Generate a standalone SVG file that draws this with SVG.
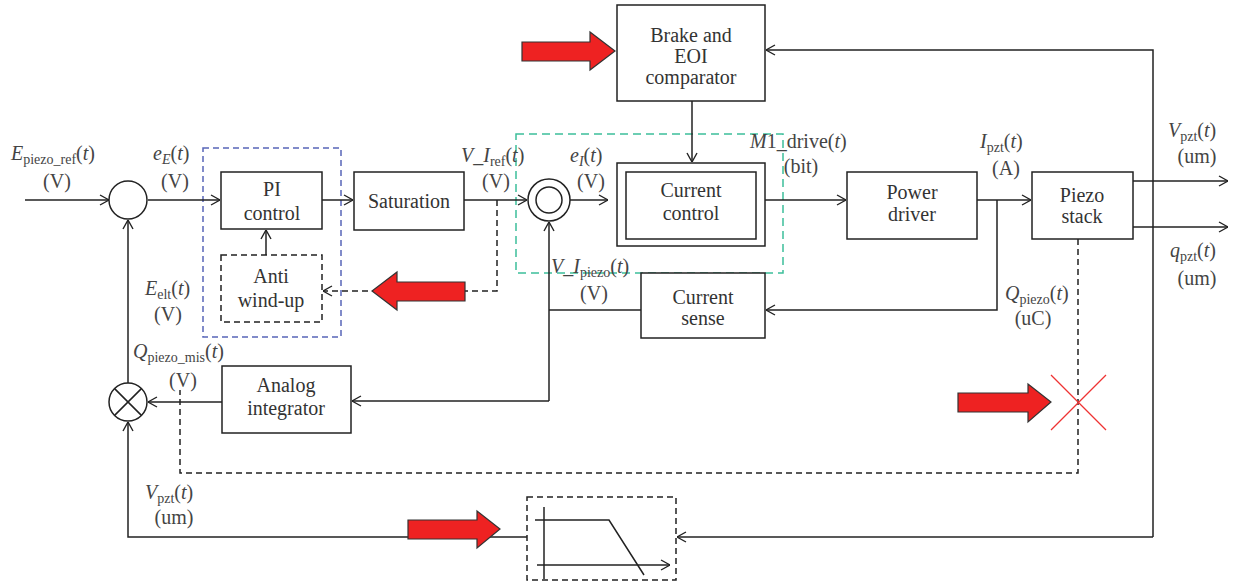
<svg xmlns="http://www.w3.org/2000/svg" width="1235" height="583" viewBox="0 0 1235 583">
<style>
.box{fill:#fff;stroke:#222;stroke-width:1.5}
.dbox{fill:none;stroke:#222;stroke-width:1.5;stroke-dasharray:6 4}
.t{font-family:"Liberation Serif",serif;font-size:20px;fill:#333;text-anchor:middle}
.lbl{font-family:"Liberation Serif",serif;font-size:20px;fill:#444}
.c{text-anchor:middle}
.it{font-style:italic}
.sub{font-size:14px}
.wire{fill:none;stroke:#222;stroke-width:1.5}
.dash{stroke-dasharray:6 4}
.red{fill:#ee2222;stroke:#333;stroke-width:1.2}
</style>
<defs>
<marker id="ar" viewBox="0 0 10 12" refX="10" refY="6" markerWidth="10" markerHeight="12" markerUnits="userSpaceOnUse" orient="auto">
<path d="M1,1 L10,6 L1,11" fill="none" stroke="#222" stroke-width="1.4"/>
</marker>
</defs>
<rect width="1235" height="583" fill="#fff"/>

<rect x="203" y="148" width="138" height="189" fill="none" stroke="#5866b8" stroke-width="1.5" stroke-dasharray="6 4"/>
<rect x="516" y="134" width="267" height="139" fill="none" stroke="#3dbf9a" stroke-width="1.5" stroke-dasharray="8 5"/>

<g id="connectors">
<path class="wire" d="M25,200 H109" marker-end="url(#ar)"/>
<path class="wire" d="M148,200 H220" marker-end="url(#ar)"/>
<path class="wire" d="M322,200 H353" marker-end="url(#ar)"/>
<path class="wire" d="M464,200 H527" marker-end="url(#ar)"/>
<path class="wire" d="M570,200 H608" marker-end="url(#ar)"/>
<path class="wire" d="M692,101 V162" marker-end="url(#ar)"/>
<path class="wire" d="M765,200 H846" marker-end="url(#ar)"/>
<path class="wire" d="M977,200 H1031" marker-end="url(#ar)"/>
<path class="wire" d="M997,200 V310 H766" marker-end="url(#ar)"/>
<path class="wire" d="M641,310 H549"/>
<path class="wire" d="M549,401 V222" marker-end="url(#ar)"/>
<path class="wire" d="M549,401 H352" marker-end="url(#ar)"/>
<path class="wire" d="M222,402 H148" marker-end="url(#ar)"/>
<path class="wire" d="M128,383 V220" marker-end="url(#ar)"/>
<path class="wire" d="M1153,537 V50 H766" marker-end="url(#ar)"/>
<path class="wire" d="M1153,537 H677" marker-end="url(#ar)"/>
<path class="wire" d="M527,537 H128 V422" marker-end="url(#ar)"/>
<path class="wire" d="M1133,181 H1228" marker-end="url(#ar)"/>
<path class="wire" d="M1133,227 H1228" marker-end="url(#ar)"/>
<path class="wire" d="M266,255 V230" marker-end="url(#ar)"/>
<path class="wire dash" d="M497,200 V291 H323" marker-end="url(#ar)"/>
<path class="wire dash" d="M1078,239 V473 H180 V390"/>
</g>

<g id="sum1"><circle cx="128" cy="200" r="19" class="box"/></g>
<g id="sum2"><circle cx="549" cy="200" r="21" class="box"/><circle cx="549" cy="200" r="13" class="box"/></g>
<g id="mult"><circle cx="128" cy="402" r="19" class="box"/><path class="wire" d="M114.6,388.6 L141.4,415.4 M141.4,388.6 L114.6,415.4"/></g>

<g font-family="Liberation Serif, serif">
<g id="brake"><rect class="box" x="617" y="5" width="148" height="96"/>
<text class="t" x="691" y="42">Brake and</text><text class="t" x="691" y="63">EOI</text><text class="t" x="691" y="84">comparator</text></g>
<g id="pi"><rect class="box" x="221" y="172" width="101" height="57"/>
<text class="t" x="272" y="196" font-size="21">PI</text><text class="t" x="272" y="220" font-size="21">control</text></g>
<g id="antiwindup"><rect class="dbox" x="221" y="255" width="101" height="67"/>
<text class="t" x="271" y="283" font-size="21">Anti</text><text class="t" x="271" y="307" font-size="21">wind-up</text></g>
<g id="saturation"><rect class="box" x="354" y="172" width="110" height="58"/>
<text class="t" x="409" y="208" font-size="21">Saturation</text></g>
<g id="currentcontrol"><rect class="box" x="617" y="163" width="148" height="83"/><rect class="box" x="626" y="172" width="130" height="67"/>
<text class="t" x="691" y="197" font-size="21">Current</text><text class="t" x="691" y="220" font-size="21">control</text></g>
<g id="powerdriver"><rect class="box" x="847" y="172" width="130" height="67"/>
<text class="t" x="912" y="199">Power</text><text class="t" x="912" y="221">driver</text></g>
<g id="piezostack"><rect class="box" x="1032" y="172" width="101" height="67"/>
<text class="t" x="1082" y="202">Piezo</text><text class="t" x="1082" y="223">stack</text></g>
<g id="currentsense"><rect class="box" x="641" y="273" width="124" height="65"/>
<text class="t" x="703" y="304" font-size="19">Current</text><text class="t" x="703" y="325" font-size="19">sense</text></g>
<g id="integrator"><rect class="box" x="222" y="366" width="129" height="67"/>
<text class="t" x="286" y="392" font-size="21">Analog</text><text class="t" x="286" y="415" font-size="21">integrator</text></g>
</g>
<g id="filter"><rect class="dbox" x="527" y="497" width="149" height="83"/>
<path class="wire" d="M544,507 V579"/>
<path class="wire" d="M537,565 H670" marker-end="url(#ar)"/>
<path class="wire" d="M535,520 H609 L644,575"/></g>

<g id="redarrows">
<polygon class="red" points="522,42 590,42 590,32 615,51 590,70 590,61 522,61"/>
<polygon class="red" points="465,282 397,282 397,272 372,291 397,310 397,301 465,301"/>
<polygon class="red" points="408,520 477,520 477,511 500,529 477,548 477,539 408,539"/>
<polygon class="red" points="958,393 1028,393 1028,384 1051,402 1028,422 1028,412 958,412"/>
<path d="M1051,375 L1106,430 M1106,375 L1051,430" stroke="#ee3333" stroke-width="1.3" fill="none"/>
</g>

<g id="labels" font-family="Liberation Serif, serif">
<text class="lbl" x="11" y="160"><tspan class="it">E</tspan><tspan class="sub" dy="4">piezo_ref</tspan><tspan dy="-4">(</tspan><tspan class="it">t</tspan>)</text>
<text class="lbl c" x="57" y="188">(V)</text>
<text class="lbl" x="153" y="160"><tspan class="it">e</tspan><tspan class="sub it" dy="4">E</tspan><tspan dy="-4">(</tspan><tspan class="it">t</tspan>)</text>
<text class="lbl c" x="175" y="188">(V)</text>
<text class="lbl" x="461" y="162"><tspan class="it">V</tspan>_<tspan class="it">I</tspan><tspan class="sub" dy="4">ref</tspan><tspan dy="-4">(</tspan><tspan class="it">t</tspan>)</text>
<text class="lbl c" x="496" y="188">(V)</text>
<text class="lbl" x="570" y="162"><tspan class="it">e</tspan><tspan class="sub it" dy="4">I</tspan><tspan dy="-4">(</tspan><tspan class="it">t</tspan>)</text>
<text class="lbl c" x="591" y="188">(V)</text>
<text class="lbl" x="750" y="148"><tspan class="it">M</tspan>1_drive(<tspan class="it">t</tspan>)</text>
<text class="lbl c" x="801" y="173">(bit)</text>
<text class="lbl" x="980" y="148"><tspan class="it">I</tspan><tspan class="sub" dy="4">pzt</tspan><tspan dy="-4">(</tspan><tspan class="it">t</tspan>)</text>
<text class="lbl c" x="1006" y="175">(A)</text>
<text class="lbl" x="1168" y="137"><tspan class="it">V</tspan><tspan class="sub" dy="4">pzt</tspan><tspan dy="-4">(</tspan><tspan class="it">t</tspan>)</text>
<text class="lbl c" x="1197" y="163">(um)</text>
<text class="lbl" x="1170" y="257"><tspan class="it">q</tspan><tspan class="sub" dy="4">pzt</tspan><tspan dy="-4">(</tspan><tspan class="it">t</tspan>)</text>
<text class="lbl c" x="1197" y="285">(um)</text>
<text class="lbl" x="1005" y="300"><tspan class="it">Q</tspan><tspan class="sub" dy="4">piezo</tspan><tspan dy="-4">(</tspan><tspan class="it">t</tspan>)</text>
<text class="lbl c" x="1033" y="325">(uC)</text>
<text class="lbl" x="551" y="273"><tspan class="it">V</tspan>_<tspan class="it">I</tspan><tspan class="sub" dy="4">piezo</tspan><tspan dy="-4">(</tspan><tspan class="it">t</tspan>)</text>
<text class="lbl c" x="594" y="300">(V)</text>
<text class="lbl" x="145" y="295"><tspan class="it">E</tspan><tspan class="sub" dy="4">elt</tspan><tspan dy="-4">(</tspan><tspan class="it">t</tspan>)</text>
<text class="lbl c" x="168" y="321">(V)</text>
<text class="lbl" x="133" y="358"><tspan class="it">Q</tspan><tspan class="sub" dy="4">piezo_mis</tspan><tspan dy="-4">(</tspan><tspan class="it">t</tspan>)</text>
<text class="lbl c" x="183" y="387">(V)</text>
<text class="lbl" x="145" y="499"><tspan class="it">V</tspan><tspan class="sub" dy="4">pzt</tspan><tspan dy="-4">(</tspan><tspan class="it">t</tspan>)</text>
<text class="lbl c" x="174" y="524">(um)</text>
</g>
</svg>
